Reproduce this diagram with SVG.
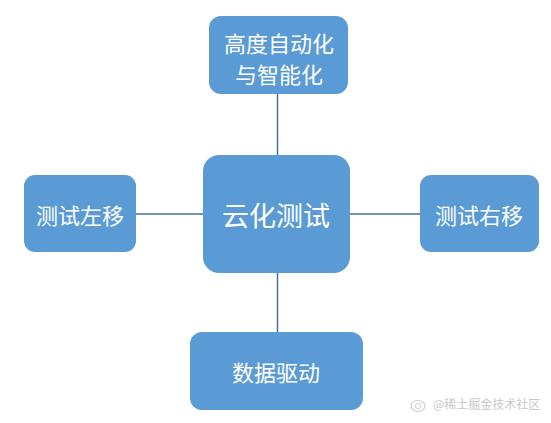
<svg xmlns="http://www.w3.org/2000/svg" width="551" height="423" viewBox="0 0 551 423">
<style>
.node{fill:#5B9BD5;}
.t{fill:#ffffff;font-family:"Noto Sans CJK SC","Liberation Sans",sans-serif;text-anchor:middle;dominant-baseline:central;}
.c{stroke:#41719C;stroke-width:1.5;fill:none;}
.wm{fill:#c8c8c8;font-family:"Noto Sans CJK SC","Liberation Sans",sans-serif;font-size:12px;}
</style>
<rect width="551" height="423" fill="#ffffff"/>
<g id="connectors">
<line class="c" x1="277.5" y1="94" x2="277.5" y2="155"/>
<line class="c" x1="277.5" y1="273" x2="277.5" y2="332"/>
<line class="c" x1="136" y1="214" x2="203" y2="214"/>
<line class="c" x1="350" y1="214" x2="420" y2="214"/>
</g>
<g id="node-top">
<rect class="node" x="209" y="16" width="139" height="78" rx="12"/>
<text class="t" x="279" y="42" font-size="22">高度自动化</text>
<text class="t" x="279" y="73" font-size="22">与智能化</text>
</g>
<g id="node-center">
<rect class="node" x="203" y="155" width="147" height="118" rx="16"/>
<text class="t" x="276" y="214" font-size="27">云化测试</text>
</g>
<g id="node-left">
<rect class="node" x="24" y="175" width="112" height="77" rx="11"/>
<text class="t" x="80" y="214" font-size="22">测试左移</text>
</g>
<g id="node-right">
<rect class="node" x="420" y="175" width="119" height="77" rx="11"/>
<text class="t" x="479" y="214" font-size="22">测试右移</text>
</g>
<g id="node-bottom">
<rect class="node" x="190" y="332" width="173" height="78" rx="12"/>
<text class="t" x="276" y="371" font-size="22">数据驱动</text>
</g>
<g id="watermark">
<ellipse cx="418" cy="406" rx="7" ry="5.5" fill="none" stroke="#cccccc" stroke-width="1.2"/>
<ellipse cx="418" cy="406" rx="3" ry="2.5" fill="none" stroke="#cccccc" stroke-width="1"/>
<text class="wm" x="433" y="409">@稀土掘金技术社区</text>
</g>
</svg>
